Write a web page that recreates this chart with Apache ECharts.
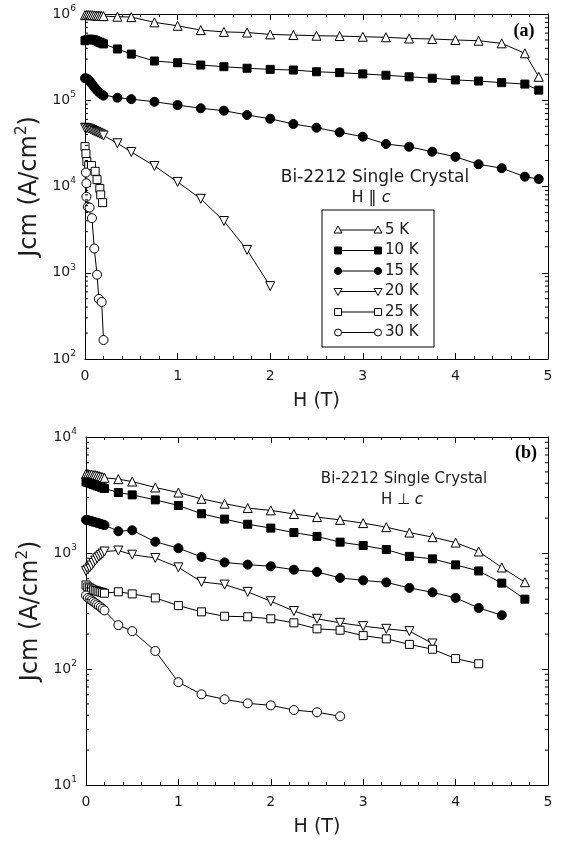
<!DOCTYPE html>
<html>
<head>
<meta charset="utf-8">
<script src="https://cdn.jsdelivr.net/npm/echarts@6/dist/echarts.min.js"></script>
<style>
  html, body { margin: 0; padding: 0; background: #fff; }
  #chart { width: 565px; height: 841px; }
</style>
</head>
<body>
<div id="chart"></div>
<script>
// Jcm versus applied field H for a Bi-2212 single crystal at six temperatures.
const tempLabels = ['5 K', '10 K', '15 K', '20 K', '25 K', '30 K'];

// ---- (a) field parallel to c ----
const hPar5K  = [0, 0.02, 0.04, 0.06, 0.08, 0.1, 0.12, 0.14, 0.16, 0.18, 0.2, 0.35, 0.5, 0.75, 1, 1.25, 1.5, 1.75, 2, 2.25, 2.5, 2.75, 3, 3.25, 3.5, 3.75, 4, 4.25, 4.5, 4.75, 4.9];
const jPar5K  = [9.7e5, 9.75e5, 9.75e5, 9.7e5, 9.7e5, 9.65e5, 9.6e5, 9.6e5, 9.55e5, 9.5e5, 9.45e5, 9.3e5, 9.2e5, 8.0e5, 7.3e5, 6.5e5, 6.2e5, 6.1e5, 5.8e5, 5.7e5, 5.6e5, 5.55e5, 5.45e5, 5.37e5, 5.2e5, 5.13e5, 5.0e5, 4.9e5, 4.57e5, 3.5e5, 1.87e5];
const hPar10K = [0, 0.02, 0.04, 0.06, 0.08, 0.1, 0.12, 0.14, 0.16, 0.18, 0.2, 0.35, 0.5, 0.75, 1, 1.25, 1.5, 1.75, 2, 2.25, 2.5, 2.75, 3, 3.25, 3.5, 3.75, 4, 4.25, 4.5, 4.75, 4.9];
const jPar10K = [4.9e5, 5.0e5, 5.1e5, 5.1e5, 5.05e5, 5.0e5, 4.9e5, 4.8e5, 4.7e5, 4.6e5, 4.5e5, 3.93e5, 3.43e5, 2.85e5, 2.72e5, 2.56e5, 2.45e5, 2.35e5, 2.28e5, 2.24e5, 2.14e5, 2.09e5, 2.02e5, 1.95e5, 1.87e5, 1.8e5, 1.72e5, 1.67e5, 1.6e5, 1.54e5, 1.31e5];
const hPar15K = [0, 0.02, 0.04, 0.06, 0.08, 0.1, 0.12, 0.14, 0.16, 0.18, 0.2, 0.35, 0.5, 0.75, 1, 1.25, 1.5, 1.75, 2, 2.25, 2.5, 2.75, 3, 3.25, 3.5, 3.75, 4, 4.25, 4.5, 4.75, 4.9];
const jPar15K = [1.8e5, 1.78e5, 1.72e5, 1.62e5, 1.52e5, 1.42e5, 1.34e5, 1.27e5, 1.21e5, 1.17e5, 1.13e5, 1.07e5, 1.03e5, 9.6e4, 8.8e4, 8.07e4, 7.57e4, 6.75e4, 6.1e4, 5.3e4, 4.8e4, 4.25e4, 3.78e4, 3.11e4, 2.89e4, 2.53e4, 2.21e4, 1.81e4, 1.63e4, 1.3e4, 1.22e4];
const hPar20K = [0, 0.02, 0.04, 0.06, 0.08, 0.1, 0.12, 0.14, 0.16, 0.18, 0.2, 0.35, 0.5, 0.75, 1, 1.25, 1.5, 1.75, 2];
const jPar20K = [4.8e4, 4.75e4, 4.7e4, 4.6e4, 4.5e4, 4.4e4, 4.3e4, 4.2e4, 4.1e4, 4.0e4, 3.9e4, 3.17e4, 2.51e4, 1.73e4, 1.13e4, 7.2e3, 3.98e3, 1.84e3, 7.0e2];
const hPar25K = [0, 0.01, 0.02, 0.04, 0.07, 0.11, 0.13, 0.16, 0.17, 0.19];
const jPar25K = [2.9e4, 2.4e4, 1.95e4, 1.75e4, 1.75e4, 1.5e4, 1.2e4, 9.5e3, 8.0e3, 6.5e3];
const hPar30K = [0.01, 0.015, 0.015, 0.03, 0.05, 0.075, 0.1, 0.13, 0.15, 0.18, 0.2];
const jPar30K = [1.45e4, 1.09e4, 7.6e3, 5.8e3, 5.7e3, 4.3e3, 1.91e3, 9.5e2, 4.97e2, 4.58e2, 1.66e2];

// ---- (b) field perpendicular to c ----
const hPerp5K  = [0, 0.02, 0.04, 0.06, 0.08, 0.1, 0.12, 0.14, 0.16, 0.18, 0.2, 0.35, 0.5, 0.75, 1, 1.25, 1.5, 1.75, 2, 2.25, 2.5, 2.75, 3, 3.25, 3.5, 3.75, 4, 4.25, 4.5, 4.75];
const jPerp5K  = [4.8e3, 4.8e3, 4.75e3, 4.75e3, 4.7e3, 4.7e3, 4.65e3, 4.6e3, 4.55e3, 4.5e3, 4.45e3, 4.33e3, 4.13e3, 3.67e3, 3.32e3, 2.93e3, 2.66e3, 2.44e3, 2.33e3, 2.17e3, 2.04e3, 1.93e3, 1.81e3, 1.67e3, 1.5e3, 1.37e3, 1.23e3, 1.03e3, 7.5e2, 5.6e2];
const hPerp10K = [0, 0.02, 0.04, 0.06, 0.08, 0.1, 0.12, 0.14, 0.16, 0.18, 0.2, 0.35, 0.5, 0.75, 1, 1.25, 1.5, 1.75, 2, 2.25, 2.5, 2.75, 3, 3.25, 3.5, 3.75, 4, 4.25, 4.5, 4.75];
const jPerp10K = [4.1e3, 4.05e3, 4.0e3, 3.95e3, 3.9e3, 3.85e3, 3.8e3, 3.75e3, 3.7e3, 3.65e3, 3.6e3, 3.32e3, 3.17e3, 2.87e3, 2.57e3, 2.18e3, 1.96e3, 1.77e3, 1.64e3, 1.5e3, 1.39e3, 1.24e3, 1.16e3, 1.07e3, 9.35e2, 8.9e2, 7.9e2, 7.0e2, 5.5e2, 4.0e2];
const hPerp15K = [0, 0.02, 0.04, 0.06, 0.08, 0.1, 0.12, 0.14, 0.16, 0.18, 0.2, 0.35, 0.5, 0.75, 1, 1.25, 1.5, 1.75, 2, 2.25, 2.5, 2.75, 3, 3.25, 3.5, 3.75, 4, 4.25, 4.5];
const jPerp15K = [1.93e3, 1.92e3, 1.9e3, 1.88e3, 1.86e3, 1.84e3, 1.82e3, 1.8e3, 1.78e3, 1.76e3, 1.74e3, 1.54e3, 1.57e3, 1.25e3, 1.1e3, 9.25e2, 8.3e2, 7.94e2, 7.68e2, 7.18e2, 6.87e2, 6.1e2, 5.81e2, 5.58e2, 5.0e2, 4.58e2, 4.1e2, 3.36e2, 2.91e2];
const hPerp20K = [0, 0.02, 0.04, 0.06, 0.08, 0.1, 0.12, 0.14, 0.16, 0.18, 0.2, 0.35, 0.5, 0.75, 1, 1.25, 1.5, 1.75, 2, 2.25, 2.5, 2.75, 3, 3.25, 3.5, 3.75];
const jPerp20K = [7.0e2, 7.2e2, 7.5e2, 7.8e2, 8.2e2, 8.6e2, 9.0e2, 9.3e2, 9.6e2, 9.9e2, 1.03e3, 1.05e3, 9.67e2, 9.06e2, 7.52e2, 5.64e2, 5.34e2, 4.62e2, 3.84e2, 3.16e2, 2.71e2, 2.5e2, 2.34e2, 2.22e2, 2.12e2, 1.66e2];
const hPerp25K = [0, 0.02, 0.04, 0.06, 0.08, 0.1, 0.12, 0.14, 0.16, 0.18, 0.2, 0.35, 0.5, 0.75, 1, 1.25, 1.5, 1.75, 2, 2.25, 2.5, 2.75, 3, 3.25, 3.5, 3.75, 4, 4.25];
const jPerp25K = [5.3e2, 5.1e2, 5.0e2, 4.9e2, 4.8e2, 4.75e2, 4.7e2, 4.65e2, 4.6e2, 4.55e2, 4.5e2, 4.63e2, 4.44e2, 4.1e2, 3.52e2, 3.11e2, 2.85e2, 2.82e2, 2.71e2, 2.5e2, 2.22e2, 2.16e2, 1.94e2, 1.82e2, 1.63e2, 1.48e2, 1.23e2, 1.11e2];
const hPerp30K = [0, 0.02, 0.04, 0.06, 0.08, 0.1, 0.12, 0.14, 0.16, 0.18, 0.2, 0.35, 0.5, 0.75, 1, 1.25, 1.5, 1.75, 2, 2.25, 2.5, 2.75];
const jPerp30K = [4.3e2, 4.1e2, 4.0e2, 3.9e2, 3.8e2, 3.7e2, 3.6e2, 3.5e2, 3.4e2, 3.3e2, 3.2e2, 2.39e2, 2.12e2, 1.43e2, 77, 60.5, 54.8, 50.6, 48.6, 44.3, 42.4, 39.1];

const xTicks = [0, 1, 2, 3, 4, 5];

const FONT = 'DejaVu Sans';
const INK = '#1c1c1c';

// plot frames (pixels)
const frames = [
  { left: 85, top: 14, width: 463, height: 345 },
  { left: 86, top: 437, width: 462, height: 348 }
];
// decade ranges of the two log axes (exponents)
const decades = [[2, 6], [1, 4]];

// marker look for each temperature, same order as tempLabels
const markers = [
  { symbol: 'triangle', rotate: 0,   fill: '#fff', size: 9 },
  { symbol: 'rect',     rotate: 0,   fill: '#000', size: 8 },
  { symbol: 'circle',   rotate: 0,   fill: '#000', size: 9 },
  { symbol: 'triangle', rotate: 180, fill: '#fff', size: 9 },
  { symbol: 'rect',     rotate: 0,   fill: '#fff', size: 8 },
  { symbol: 'circle',   rotate: 0,   fill: '#fff', size: 9 }
];

const zip = (h, j) => h.map((v, i) => [v, j[i]]);

const parallelSets = [
  [hPar5K, jPar5K], [hPar10K, jPar10K], [hPar15K, jPar15K],
  [hPar20K, jPar20K], [hPar25K, jPar25K], [hPar30K, jPar30K]
];
const perpSets = [
  [hPerp5K, jPerp5K], [hPerp10K, jPerp10K], [hPerp15K, jPerp15K],
  [hPerp20K, jPerp20K], [hPerp25K, jPerp25K], [hPerp30K, jPerp30K]
];

function lineSeries(set, k, xIdx, yIdx) {
  const m = markers[k];
  return {
    type: 'line',
    name: tempLabels[k] + (xIdx === 0 ? ' ∥' : ' ⊥'),
    xAxisIndex: xIdx,
    yAxisIndex: yIdx,
    data: zip(set[0], set[1]),
    symbol: m.symbol,
    symbolRotate: m.rotate,
    symbolSize: m.size,
    showAllSymbol: true,
    lineStyle: { color: '#000', width: 1 },
    itemStyle: { color: m.fill, borderColor: '#000', borderWidth: 1 },
    emphasis: { disabled: true },
    animation: false,
    z: 3
  };
}

const supRich = {
  b: { fontFamily: FONT, fontSize: 14, color: INK },
  s: { fontFamily: FONT, fontSize: 9, color: INK, padding: [0, 0, 11, 0] }
};

function xAxes(gridIndex) {
  const base = {
    type: 'value', gridIndex, min: 0, max: 5, interval: 1,
    axisLine: { show: true, onZero: false, lineStyle: { color: '#000', width: 1 } },
    axisTick: { show: true, inside: true, length: 6, lineStyle: { color: '#000' } },
    minorTick: { show: true, splitNumber: 5, length: 3, lineStyle: { color: '#000' } },
    splitLine: { show: false }
  };
  return [
    Object.assign({}, base, {
      position: 'bottom',
      axisLabel: { show: true, margin: 10, fontFamily: FONT, fontSize: 14, color: INK,
        formatter: v => (xTicks.indexOf(v) >= 0 ? String(v) : '') },
      name: 'H (T)', nameLocation: 'middle', nameGap: 33,
      nameTextStyle: { fontFamily: FONT, fontSize: 19, color: INK }
    }),
    Object.assign({}, base, { position: 'top', axisLabel: { show: false } })
  ];
}

function yAxes(gridIndex) {
  const lo = Math.pow(10, decades[gridIndex][0]), hi = Math.pow(10, decades[gridIndex][1]);
  const base = {
    type: 'log', logBase: 10, gridIndex, min: lo, max: hi,
    splitLine: { show: false }, minorTick: { show: false },
    axisLine: { show: true, onZero: false, lineStyle: { color: '#000', width: 1 } },
    axisTick: { show: true, inside: true, length: 6, lineStyle: { color: '#000' } }
  };
  return [
    Object.assign({}, base, {
      position: 'left',
      axisLabel: { show: true, margin: 9,
        formatter: v => '{b|10}{s|' + Math.round(Math.log10(v)) + '}', rich: supRich },
      name: 'Jcm (A/cm{s|2})', nameLocation: 'middle', nameGap: 40, nameRotate: 90,
      nameTextStyle: { fontFamily: FONT, fontSize: 24, color: INK,
        rich: { s: { fontFamily: FONT, fontSize: 15, color: INK, padding: [0, 0, 15, 0] } } }
    }),
    Object.assign({}, base, { position: 'right', axisLabel: { show: false } })
  ];
}

// legend box drawn inside panel (a)
function legendGraphics() {
  const left = 322, top = 210, w = 112, h = 137;
  const rowY0 = 230, rowStep = 20.5, x1 = 338, x2 = 378;
  const items = [{
    type: 'rect', shape: { x: left, y: top, width: w, height: h },
    style: { fill: '#fff', stroke: '#000', lineWidth: 1 }, z: 20
  }];
  tempLabels.forEach((lab, k) => {
    const y = rowY0 + k * rowStep;
    const m = markers[k];
    items.push({ type: 'line', shape: { x1, y1: y, x2, y2: y }, style: { stroke: '#000', lineWidth: 1 }, z: 21 });
    [x1, x2].forEach(cx => {
      const st = { fill: m.fill, stroke: '#000', lineWidth: 1 };
      let shape;
      if (m.symbol === 'circle') {
        shape = { type: 'circle', shape: { cx, cy: y, r: 3.5 }, style: st };
      } else if (m.symbol === 'rect') {
        shape = { type: 'rect', shape: { x: cx - 3.5, y: y - 3.5, width: 7, height: 7 }, style: st };
      } else {
        const d = m.rotate ? -1 : 1;
        shape = { type: 'polygon', shape: { points: [[cx, y - 4 * d], [cx - 4, y + 3 * d], [cx + 4, y + 3 * d]] }, style: st };
      }
      shape.z = 22;
      items.push(shape);
    });
    items.push({
      type: 'text', x: 385, y, z: 22,
      style: { text: lab, fontFamily: FONT, fontSize: 15, fill: INK, align: 'left', verticalAlign: 'middle' }
    });
  });
  return items;
}

function label(text, x, y, extra) {
  return {
    type: 'text', x, y, z: 30,
    style: Object.assign({ text, fontFamily: FONT, fontSize: 17, fill: INK, align: 'center', verticalAlign: 'middle' }, extra || {})
  };
}

function fieldLabel(sym, x, y, size) {
  return {
    type: 'text', x, y, z: 30,
    style: { text: 'H ' + sym + ' {i|c}', fontFamily: FONT, fontSize: size, fill: INK, align: 'center', verticalAlign: 'middle',
      rich: { i: { fontFamily: FONT, fontStyle: 'italic', fontSize: size, fill: INK } } }
  };
}

const chart = echarts.init(document.getElementById('chart'), null, { renderer: 'canvas' });

const series = [];
parallelSets.forEach((s, k) => series.push(lineSeries(s, k, 0, 0)));
perpSets.forEach((s, k) => series.push(lineSeries(s, k, 2, 2)));

const staticGraphics = [].concat(legendGraphics(), [
  label('Bi-2212 Single Crystal', 375, 178),
  fieldLabel('‖', 371, 198, 16),
  label('(a)', 524, 31, { fontFamily: 'Liberation Serif', fontWeight: 'bold', fontSize: 18, fill: '#000' }),
  label('Bi-2212 Single Crystal', 404, 479, { fontSize: 15 }),
  fieldLabel('⊥', 402, 500, 15),
  label('(b)', 526, 453, { fontFamily: 'Liberation Serif', fontWeight: 'bold', fontSize: 18, fill: '#000' })
]);

chart.setOption({
  backgroundColor: '#fff',
  animation: false,
  grid: frames,
  xAxis: [].concat(xAxes(0), xAxes(1)),
  yAxis: [].concat(yAxes(0), yAxes(1)),
  series,
  graphic: staticGraphics
});

// log minor ticks (2..9 per decade) on both vertical frame edges, placed via the log axes
const minorTicks = [];
frames.forEach((f, g) => {
  const [eLo, eHi] = decades[g];
  for (let e = eLo; e < eHi; e++) {
    for (let m = 2; m <= 9; m++) {
      const y = chart.convertToPixel({ yAxisIndex: g * 2 }, m * Math.pow(10, e));
      const xl = f.left, xr = f.left + f.width;
      minorTicks.push({ type: 'line', z: 10, shape: { x1: xl, y1: y, x2: xl + 3, y2: y }, style: { stroke: '#000', lineWidth: 1 } });
      minorTicks.push({ type: 'line', z: 10, shape: { x1: xr - 3, y1: y, x2: xr, y2: y }, style: { stroke: '#000', lineWidth: 1 } });
    }
  }
});
chart.setOption({ graphic: staticGraphics.concat(minorTicks) }, { replaceMerge: ['graphic'] });
</script>
</body>
</html>
